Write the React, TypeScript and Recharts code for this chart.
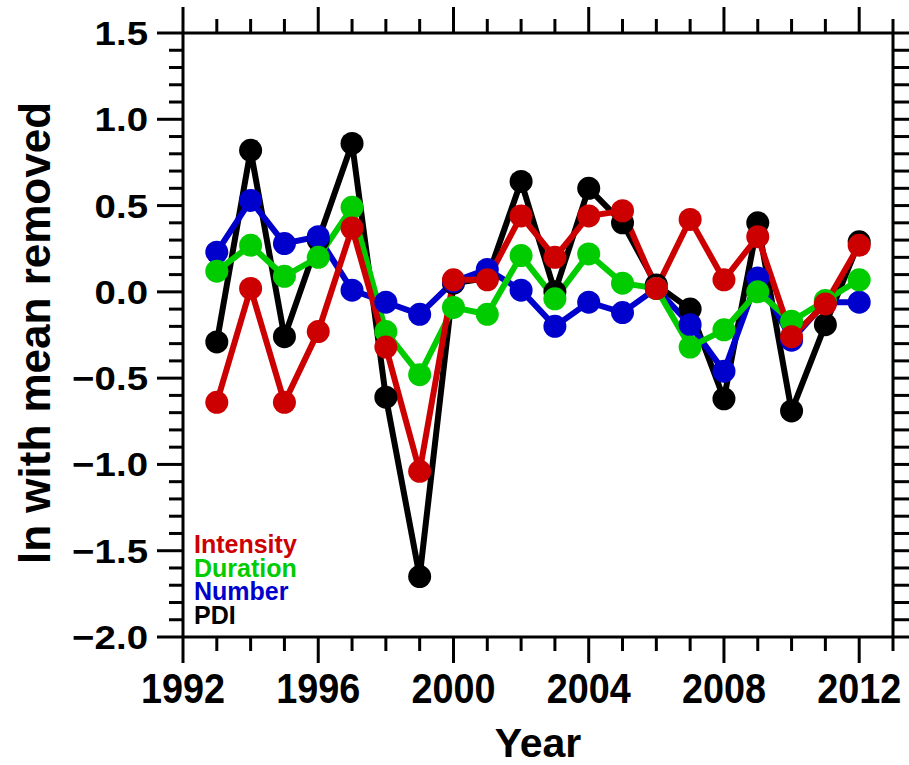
import React from 'react';
import { LineChart, Line, XAxis, YAxis } from 'recharts';

const years = [1993, 1994, 1995, 1996, 1997, 1998, 1999, 2000, 2001, 2002, 2003, 2004, 2005, 2006, 2007, 2008, 2009, 2010, 2011, 2012];
const pdi = [-0.29, 0.82, -0.26, 0.3, 0.86, -0.61, -1.65, 0.05, 0.08, 0.64, 0.0, 0.6, 0.4, 0.04, -0.1, -0.62, 0.4, -0.69, -0.19, 0.29];
const number = [0.23, 0.53, 0.28, 0.32, 0.01, -0.06, -0.13, 0.06, 0.13, 0.01, -0.2, -0.06, -0.12, 0.02, -0.19, -0.46, 0.08, -0.28, -0.06, -0.06];
const duration = [0.12, 0.27, 0.09, 0.2, 0.49, -0.23, -0.48, -0.09, -0.13, 0.21, -0.04, 0.22, 0.05, 0.02, -0.32, -0.22, 0.0, -0.17, -0.05, 0.07];
const intensity = [-0.64, 0.02, -0.64, -0.23, 0.37, -0.32, -1.04, 0.07, 0.07, 0.44, 0.2, 0.44, 0.47, 0.02, 0.42, 0.07, 0.32, -0.26, -0.07, 0.27];

// every year gets a tick, labels only on these
const xTicks = [1992, 1993, 1994, 1995, 1996, 1997, 1998, 1999, 2000, 2001, 2002, 2003, 2004, 2005, 2006, 2007, 2008, 2009, 2010, 2011, 2012, 2013];
const xMajor = [1992, 1996, 2000, 2004, 2008, 2012];
const yMajor = [-2.0, -1.5, -1.0, -0.5, 0.0, 0.5, 1.0, 1.5];
const yTicks: number[] = [];
for (let i = -20; i <= 15; i++) yTicks.push(i / 10);

const legendItems = [
  { name: 'Intensity', color: '#cc0000' },
  { name: 'Duration', color: '#00cc00' },
  { name: 'Number', color: '#0000cc' },
  { name: 'PDI', color: '#000000' },
];

const data = years.map((year, i) => ({
  year,
  pdi: pdi[i],
  number: number[i],
  duration: duration[i],
  intensity: intensity[i],
}));

const FONT = '"Liberation Sans", Arial, Helvetica, sans-serif';
const MAJOR = 26;
const MINOR = 14;

const isMajorY = (v: number) => yMajor.some((m) => Math.abs(m - v) < 1e-6);
const fmtY = (v: number) => (v < -1e-9 ? '\u2212' : '') + Math.abs(v).toFixed(1);

const BottomTick = (props: any) => {
  const { x, y, payload } = props;
  const major = xMajor.includes(payload.value);
  return (
    <g>
      <line x1={x} x2={x} y1={y} y2={y + (major ? MAJOR : MINOR)} stroke="#000" strokeWidth={3} />
      {major && (
        <text
          transform={`translate(${x},${y + 66}) scale(0.9,1)`}
          textAnchor="middle"
          fontFamily={FONT}
          fontWeight="bold"
          fontSize={42}
          fill="#000"
        >
          {payload.value}
        </text>
      )}
    </g>
  );
};

const TopTick = (props: any) => {
  const { x, y, payload } = props;
  const major = xMajor.includes(payload.value);
  return <line x1={x} x2={x} y1={y} y2={y - (major ? MAJOR : MINOR)} stroke="#000" strokeWidth={3} />;
};

const LeftTick = (props: any) => {
  const { x, y, payload } = props;
  const major = isMajorY(payload.value);
  return (
    <g>
      <line x1={x - (major ? MAJOR : MINOR)} x2={x} y1={y} y2={y} stroke="#000" strokeWidth={3} />
      {major && (
        <text
          transform={`translate(${x - 35},${y + 12}) scale(1.13,1)`}
          textAnchor="end"
          fontFamily={FONT}
          fontWeight="bold"
          fontSize={34}
          fill="#000"
        >
          {fmtY(payload.value)}
        </text>
      )}
    </g>
  );
};

const RightTick = (props: any) => {
  const { x, y, payload } = props;
  const major = isMajorY(payload.value);
  return <line x1={x} x2={x + (major ? MAJOR : MINOR) + 4} y1={y} y2={y} stroke="#000" strokeWidth={3} />;
};

const axisLine = { stroke: '#000', strokeWidth: 3 };

export default function App() {
  return (
    <div style={{ position: 'absolute', left: 0, top: 0, width: 909, height: 765, background: '#fff' }}>
      <LineChart width={909} height={765} data={data} margin={{ top: 0, right: 0, bottom: 0, left: 0 }}>
        <XAxis
          xAxisId="b"
          dataKey="year"
          type="number"
          domain={[1992, 2013]}
          ticks={xTicks}
          interval={0}
          height={128}
          tickSize={0}
          tickMargin={0}
          tickLine={false}
          axisLine={axisLine}
          tick={<BottomTick />}
          allowDataOverflow
        />
        <XAxis
          xAxisId="t"
          orientation="top"
          dataKey="year"
          type="number"
          domain={[1992, 2013]}
          ticks={xTicks}
          interval={0}
          height={33}
          tickSize={0}
          tickMargin={0}
          tickLine={false}
          axisLine={axisLine}
          tick={<TopTick />}
          allowDataOverflow
        />
        <YAxis
          yAxisId="l"
          type="number"
          domain={[-2, 1.5]}
          ticks={yTicks}
          interval={0}
          width={183}
          tickSize={0}
          tickMargin={0}
          tickLine={false}
          axisLine={axisLine}
          tick={<LeftTick />}
          allowDataOverflow
        />
        <YAxis
          yAxisId="r"
          orientation="right"
          type="number"
          domain={[-2, 1.5]}
          ticks={yTicks}
          interval={0}
          width={16}
          tickSize={0}
          tickMargin={0}
          tickLine={false}
          axisLine={axisLine}
          tick={<RightTick />}
          allowDataOverflow
        />
        <Line xAxisId="b" yAxisId="l" type="linear" dataKey="pdi" stroke="#000000" strokeWidth={6}
          dot={{ r: 11.5, fill: '#000000', stroke: 'none' }} activeDot={false} isAnimationActive={false} />
        <Line xAxisId="b" yAxisId="l" type="linear" dataKey="number" stroke="#0000cc" strokeWidth={6}
          dot={{ r: 11.5, fill: '#0000cc', stroke: 'none' }} activeDot={false} isAnimationActive={false} />
        <Line xAxisId="b" yAxisId="l" type="linear" dataKey="duration" stroke="#00cc00" strokeWidth={6}
          dot={{ r: 11.5, fill: '#00cc00', stroke: 'none' }} activeDot={false} isAnimationActive={false} />
        <Line xAxisId="b" yAxisId="l" type="linear" dataKey="intensity" stroke="#cc0000" strokeWidth={6}
          dot={{ r: 11.5, fill: '#cc0000', stroke: 'none' }} activeDot={false} isAnimationActive={false} />
      </LineChart>
      <svg width={909} height={765} style={{ position: 'absolute', left: 0, top: 0, pointerEvents: 'none' }}>
        <text transform="translate(50,333) rotate(-90)" textAnchor="middle" fontFamily={FONT} fontWeight="bold" fontSize={44} fill="#000">
          ln with mean removed
        </text>
        <text x={538} y={757} textAnchor="middle" fontFamily={FONT} fontWeight="bold" fontSize={41} fill="#000">
          Year
        </text>
        {legendItems.map((item, i) => (
          <text key={item.name} x={194} y={553 + i * 23.5} fontFamily={FONT} fontWeight="bold" fontSize={25} fill={item.color}>
            {item.name}
          </text>
        ))}
      </svg>
    </div>
  );
}
